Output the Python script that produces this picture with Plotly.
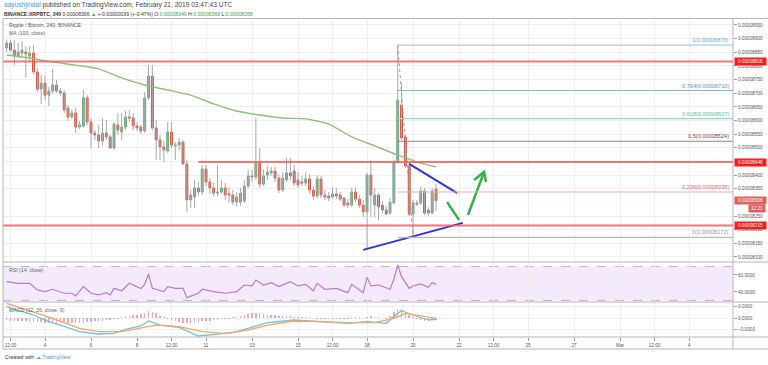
import plotly.graph_objects as go
import pandas as pd

W, H = 768, 365
FONT = "Liberation Sans, Arial, sans-serif"

# ---------------- data (prices in satoshi = 1e-8 BTC) ----------------
opens = [8866, 8884, 8858, 8836, 8847, 8851, 8836, 8847, 8778, 8715,
         8737, 8693, 8708, 8730, 8708, 8701, 8646, 8613, 8628, 8576,
         8580, 8683, 8595, 8554, 8547, 8525, 8554, 8540, 8499, 8584,
         8558, 8576, 8613, 8609, 8580, 8576, 8562, 8683, 8763, 8573,
         8529, 8503, 8488, 8558, 8507, 8510, 8521, 8441, 8309, 8320,
         8353, 8338, 8422, 8375, 8353, 8334, 8338, 8353, 8331, 8327,
         8301, 8301, 8305, 8360, 8397, 8393, 8444, 8367, 8400, 8408,
         8415, 8389, 8345, 8382, 8408, 8415, 8382, 8375, 8371, 8386,
         8345, 8323, 8386, 8327, 8323, 8320, 8331, 8327, 8316, 8298,
         8290, 8338, 8312, 8290, 8265, 8400, 8290, 8327, 8290, 8272,
         8261, 8298, 8448, 8657, 8540, 8433, 8257, 8298, 8298, 8342,
         8272, 8261, 8349]
closes = [8884, 8858, 8836, 8851, 8858, 8844, 8847, 8778, 8715, 8737,
          8693, 8708, 8730, 8708, 8701, 8639, 8613, 8628, 8576, 8584,
          8683, 8595, 8554, 8547, 8525, 8554, 8540, 8499, 8587, 8565,
          8576, 8613, 8609, 8580, 8573, 8562, 8683, 8763, 8573, 8529,
          8503, 8492, 8558, 8510, 8510, 8521, 8441, 8309, 8327, 8353,
          8338, 8422, 8375, 8353, 8334, 8338, 8353, 8327, 8327, 8301,
          8320, 8334, 8360, 8397, 8393, 8444, 8367, 8397, 8411, 8415,
          8389, 8345, 8389, 8408, 8397, 8371, 8364, 8371, 8386, 8345,
          8323, 8386, 8327, 8320, 8316, 8331, 8323, 8312, 8290, 8290,
          8338, 8312, 8290, 8265, 8400, 8327, 8327, 8283, 8272, 8257,
          8301, 8448, 8675, 8536, 8433, 8257, 8298, 8294, 8342, 8261,
          8261, 8342, 8306]
highs = [8895, 8895, 8895, 8884, 8891, 8873, 8873, 8877, 8792, 8767,
         8763, 8723, 8789, 8748, 8719, 8712, 8657, 8639, 8646, 8598,
         8712, 8693, 8609, 8565, 8584, 8609, 8602, 8547, 8595, 8628,
         8628, 8635, 8639, 8628, 8595, 8584, 8704, 8803, 8803, 8602,
         8547, 8525, 8595, 8595, 8521, 8536, 8529, 8455, 8345, 8382,
         8375, 8437, 8437, 8389, 8371, 8437, 8382, 8371, 8356, 8345,
         8338, 8353, 8382, 8419, 8419, 8609, 8499, 8419, 8433, 8430,
         8430, 8400, 8411, 8463, 8463, 8437, 8411, 8397, 8411, 8404,
         8360, 8400, 8397, 8345, 8338, 8356, 8353, 8338, 8320, 8312,
         8353, 8356, 8327, 8309, 8408, 8455, 8353, 8334, 8305, 8287,
         8316, 8455, 8876, 8737, 8547, 8444, 8309, 8309, 8356, 8353,
         8283, 8353, 8369]
lows = [8851, 8851, 8803, 8829, 8833, 8756, 8814, 8770, 8704, 8661,
        8675, 8653, 8697, 8701, 8690, 8628, 8598, 8606, 8554, 8569,
        8573, 8584, 8499, 8529, 8499, 8510, 8529, 8496, 8492, 8547,
        8529, 8565, 8595, 8565, 8562, 8551, 8554, 8675, 8565, 8455,
        8455, 8448, 8481, 8499, 8455, 8492, 8437, 8265, 8279, 8279,
        8323, 8327, 8360, 8331, 8323, 8323, 8331, 8309, 8298, 8290,
        8283, 8287, 8298, 8353, 8375, 8382, 8353, 8360, 8382, 8397,
        8375, 8334, 8338, 8375, 8382, 8360, 8353, 8360, 8360, 8331,
        8309, 8316, 8316, 8309, 8305, 8312, 8312, 8305, 8283, 8279,
        8283, 8301, 8279, 8246, 8133, 8246, 8246, 8235, 8261, 8254,
        8254, 8294, 8444, 8529, 8426, 8250, 8172, 8287, 8290, 8254,
        8250, 8257, 8268]

N = len(opens)
dates = pd.date_range(end="2019-02-21 00:00", periods=N, freq="4h")

# MA(100) sampled at candle indices
ma_idx = [0, 6, 12, 18, 24, 30, 36, 42, 48, 54, 60, 66, 72, 78, 84, 90, 96, 102, 108, 112]
ma_vals = [8840, 8829, 8814, 8803, 8789, 8756, 8730, 8712, 8693, 8661,
           8635, 8620, 8609, 8606, 8587, 8540, 8507, 8474, 8444, 8430]

# RSI(14) sampled at candle indices
rsi_idx = [0, 3, 6, 8, 10, 12, 15, 17, 18, 20, 22, 24, 26, 27, 28, 30, 32, 34, 35, 36,
           37, 38, 41, 42, 44, 46, 47, 50, 51, 54, 57, 60, 62, 64, 65, 67, 69, 71, 74, 76,
           78, 80, 81, 83, 86, 89, 90, 93, 94, 95, 97, 100, 101, 102, 103, 105, 106, 108,
           110, 111, 112]
rsi_vals = [52.1, 50.2, 50.2, 42.4, 40.4, 43.2, 38.5, 38.5, 35.3, 46.3, 38.5, 36.5, 39.2,
            36.5, 44.3, 41.5, 50.2, 46.3, 44.0, 49.0, 61.2, 44.3, 40.4, 46.3, 44.3, 44.3,
            33.3, 38.5, 43.2, 40.4, 38.5, 40.4, 48.2, 47.1, 54.1, 48.2, 51.0, 46.3, 52.1,
            47.1, 49.0, 41.5, 50.2, 43.2, 44.3, 39.2, 49.0, 39.2, 57.3, 47.1, 48.2, 43.2,
            55.0, 71.8, 58.0, 44.3, 47.1, 49.4, 45.5, 51.0, 49.0]

# MACD(12, 26, 9) in satoshi, sampled at candle indices
macd_idx = [0, 4, 7, 11, 14, 19, 24, 28, 31, 35, 37, 40, 45, 50, 54, 59, 63, 68, 75, 82,
            89, 94, 99, 102, 103, 106, 109, 110, 112]
macd_vals = [19.7, 11, 5.2, -6.4, -12.2, -23.8, -27.8, -26.7, -19.7, -13.9, -5.2, -12.2,
             -16.2, -31.3, -28.4, -25.5, -18, -8.1, -3.5, -6.4, -9.3, -6.4, -9.3, 8.1, 12.8,
             5.2, -0.6, -3.5, -2.3]
signal_idx = [0, 7, 12, 19, 24, 30, 35, 39, 45, 51, 57, 63, 68, 75, 82, 89, 96, 101, 104,
              108, 112]
signal_vals = [25.5, 11, -0.6, -18, -23.8, -23.8, -18, -12.2, -15, -23.8, -26.7, -20.9,
               -12.2, -5.2, -6.4, -8.1, -8.1, -0.6, 8.1, 3.5, -0.6]
hist_vals = [-4, -5, -5, -6, -6, -6, -7, -7, -7, -7,
             -8, -8, -8, -9, -9, -9, -9, -9, -8, -8,
             -8, -7, -7, -6, -6, -5, -4, -3, -2, -1,
             2, 3, 4, 5, 6, 7, 8, 12, 10, 8,
             4, 1, -2, -4, -6, -7, -8, -9, -9, -8,
             -7, -6, -6, -5, -4, -3, -2, -2, -1, 1,
             2, 4, 6, 7, 8, 9, 8, 7, 6, 5,
             5, 4, 4, 3, 3, 2, 2, 1, 1, 1,
             0, -1, -1, -2, -2, -2, -1, -1, -2, -1,
             1, 2, 1, 0, 2, 3, 2, 1, 0, -1,
             4, 10, 16, 15, 10, 5, 2, -2, -4, -5, -5, -4, -3]

# horizontal support / resistance levels
red_levels = [8816, 8448, 8215]
red_level_starts = ["2019-02-02 04:10", "2019-02-10 16:00", "2019-02-02 04:10"]

# fibonacci retracement
fib_names = ["1", "0.764", "0.618", "0.5", "0.236", "0"]
fib_prices = [8876, 8710, 8607, 8524, 8338, 8172]
fib_colors = ["#a9cbe6", "#7fb5e6", "#93dcc0", "#9c8080", "#f2a9a9", "#b9b9b9"]
fib_text_colors = ["#6fa8dc", "#4f95d6", "#4fc69a", "#7a4a4a", "#e06666", "#999999"]
fib_start = "2019-02-19 08:00"
fib_anchor_t = ["2019-02-19 08:00", "2019-02-20 00:00"]
fib_anchor_p = [8876, 8172]

# drawn triangle + arrows
tri_upper_t = ["2019-02-19 20:00", "2019-02-21 22:00"]
tri_upper_p = [8441, 8334]
tri_lower_t = ["2019-02-17 20:00", "2019-02-22 04:00"]
tri_lower_p = [8126, 8225]
dip_t = ["2019-02-21 11:30", "2019-02-22 00:00"]
dip_p = [8301, 8236]
arrow_t = ["2019-02-22 09:20", "2019-02-23 02:00", None, "2019-02-22 15:40", "2019-02-23 02:00", "2019-02-23 04:10"]
arrow_p = [8254, 8411, None, 8382, 8411, 8375]

price_ticks = [8100, 8150, 8200, 8250, 8350, 8400, 8450, 8500, 8550, 8600, 8650, 8700,
               8750, 8800, 8850, 8900, 8950]
time_ticks = ["2019-02-02 12:00", "2019-02-04", "2019-02-06", "2019-02-08", "2019-02-09 12:00",
              "2019-02-11", "2019-02-13", "2019-02-15", "2019-02-16 12:00", "2019-02-18",
              "2019-02-20", "2019-02-22", "2019-02-23 12:00", "2019-02-25", "2019-02-27",
              "2019-03-01", "2019-03-02 12:00", "2019-03-04"]
time_labels = ["12:00", "4", "6", "8", "12:00", "11", "13", "15", "12:00", "18", "20", "22",
               "12:00", "25", "27", "Mar", "12:00", "4"]

X_RANGE = ["2019-02-02 04:10", "2019-03-05 21:50"]

# ---------------- layout geometry (pixels) ----------------
def py(p):
    return 1 - p / H

def px(p):
    return p / W

XL, XR = 3, 733
MAIN = (20, 262)
RSI = (262, 302)
MACD = (302, 337)
XDOM = [px(XL), px(XR)]

fig = go.Figure()

# wicks
wx, wy = [], []
for d, lo, hi in zip(dates, lows, highs):
    wx += [d, d, None]
    wy += [lo, hi, None]
fig.add_trace(go.Scatter(x=wx, y=wy, mode="lines", line=dict(color="#a9a9a9", width=1),
                         hoverinfo="skip", showlegend=False, xaxis="x", yaxis="y"))
# bodies
body_hi = [max(o, c) for o, c in zip(opens, closes)]
body_lo = [min(o, c) for o, c in zip(opens, closes)]
fig.add_trace(go.Candlestick(x=dates, open=opens, high=body_hi, low=body_lo, close=closes,
                             increasing=dict(line=dict(color="#6ba583", width=1), fillcolor="#6ba583"),
                             decreasing=dict(line=dict(color="#d75442", width=1), fillcolor="#d75442"),
                             whiskerwidth=0, showlegend=False, hoverinfo="skip",
                             xaxis="x", yaxis="y"))
# MA 100
fig.add_trace(go.Scatter(x=[dates[i] for i in ma_idx], y=ma_vals, mode="lines",
                         line=dict(color="#8cc178", width=1.4, shape="spline", smoothing=0.6),
                         hoverinfo="skip", showlegend=False, xaxis="x", yaxis="y"))
# fib anchor dotted line
fig.add_trace(go.Scatter(x=pd.to_datetime(fib_anchor_t), y=fib_anchor_p, mode="lines",
                         line=dict(color="#9a9a9a", width=1, dash="dot"),
                         hoverinfo="skip", showlegend=False, xaxis="x", yaxis="y"))
# triangle lines
for tt, pp in [(tri_upper_t, tri_upper_p), (tri_lower_t, tri_lower_p)]:
    fig.add_trace(go.Scatter(x=pd.to_datetime(tt), y=pp, mode="lines",
                             line=dict(color="#2a33e6", width=2),
                             hoverinfo="skip", showlegend=False, xaxis="x", yaxis="y"))
# green projection
fig.add_trace(go.Scatter(x=pd.to_datetime(dip_t), y=dip_p, mode="lines",
                         line=dict(color="#2fb34a", width=2.5),
                         hoverinfo="skip", showlegend=False, xaxis="x", yaxis="y"))
fig.add_trace(go.Scatter(x=[pd.Timestamp(t) if t else None for t in arrow_t], y=arrow_p, mode="lines",
                         line=dict(color="#2fb34a", width=2.5),
                         hoverinfo="skip", showlegend=False, xaxis="x", yaxis="y"))

# RSI
fig.add_trace(go.Scatter(x=[dates[i] for i in rsi_idx], y=rsi_vals, mode="lines",
                         line=dict(color="#b57bd6", width=1.2),
                         hoverinfo="skip", showlegend=False, xaxis="x2", yaxis="y2"))
# MACD
fig.add_trace(go.Bar(x=dates, y=hist_vals, marker=dict(color="rgba(240,90,130,0.55)", line=dict(width=0)),
                     width=1.6 * 3600 * 1000, hoverinfo="skip", showlegend=False,
                     xaxis="x3", yaxis="y3"))
fig.add_trace(go.Scatter(x=[dates[i] for i in macd_idx], y=macd_vals, mode="lines",
                         line=dict(color="#6cc0f3", width=1.3),
                         hoverinfo="skip", showlegend=False, xaxis="x3", yaxis="y3"))
fig.add_trace(go.Scatter(x=[dates[i] for i in signal_idx], y=signal_vals, mode="lines",
                         line=dict(color="#f6a564", width=1.3),
                         hoverinfo="skip", showlegend=False, xaxis="x3", yaxis="y3"))

grid = "#efefef"
axfont = dict(family=FONT, size=4.7, color="#555")
xcommon = dict(type="date", range=X_RANGE, domain=XDOM, showgrid=True, gridcolor=grid,
               gridwidth=1, tickvals=time_ticks, ticktext=time_labels, zeroline=False,
               showline=False, fixedrange=True)

fig.update_layout(
    width=W, height=H, margin=dict(l=0, r=0, t=0, b=0),
    paper_bgcolor="white", plot_bgcolor="white", bargap=0,
    xaxis=dict(**xcommon, anchor="y", showticklabels=False, ticks="", rangeslider=dict(visible=False)),
    xaxis2=dict(**xcommon, anchor="y2", matches="x", showticklabels=False, ticks=""),
    xaxis3=dict(**xcommon, anchor="y3", matches="x", showticklabels=True, ticks="outside",
                ticklen=3, tickcolor="#999", tickfont=axfont),
    yaxis=dict(domain=[py(MAIN[1]), py(MAIN[0])], range=[8081.6, 8968.3], side="right",
               anchor="x", tickvals=price_ticks, ticktext=[f"{v / 1e8:.8f}" for v in price_ticks],
               ticks="outside", ticklen=3, tickcolor="#999", tickfont=axfont,
               showgrid=True, gridcolor=grid, zeroline=False, fixedrange=True),
    yaxis2=dict(domain=[py(RSI[1]), py(RSI[0])], range=[28.2, 75.3], side="right",
                anchor="x2", tickvals=[40, 60], ticktext=["40.0000", "60.0000"],
                ticks="outside", ticklen=3, tickcolor="#999", tickfont=axfont,
                showgrid=False, zeroline=False, fixedrange=True),
    yaxis3=dict(domain=[py(MACD[1]), py(MACD[0])], range=[-33, 27.8], side="right",
                anchor="x3", tickvals=[-20, 0, 20], ticktext=["\u22120.0000", "0.0000", "0.0000"],
                ticks="outside", ticklen=3, tickcolor="#999", tickfont=axfont,
                showgrid=True, gridcolor=grid, zeroline=False, fixedrange=True),
)

shapes = []
# RSI band
shapes.append(dict(type="rect", xref="paper", yref="y2", x0=XDOM[0], x1=XDOM[1], y0=30, y1=70,
                   fillcolor="#f4eafb", line=dict(width=0), layer="below"))
for lv in (30, 70):
    shapes.append(dict(type="line", xref="paper", yref="y2", x0=XDOM[0], x1=XDOM[1], y0=lv, y1=lv,
                       line=dict(color="#c9afdc", width=1, dash="dash"), layer="below"))
# red levels
for lv, st in zip(red_levels, red_level_starts):
    shapes.append(dict(type="line", xref="x", yref="y", x0=st, x1=X_RANGE[1], y0=lv, y1=lv,
                       line=dict(color="rgba(246,92,92,0.85)", width=2)))
# fib levels
for p, c in zip(fib_prices, fib_colors):
    shapes.append(dict(type="line", xref="x", yref="y", x0=fib_start, x1=X_RANGE[1], y0=p, y1=p,
                       line=dict(color=c, width=1.2)))
# frame lines
frame = "#b5b5b5"
for yy in (18.5, MAIN[1], RSI[1], MACD[1], 349):
    shapes.append(dict(type="line", xref="paper", yref="paper", x0=px(XL), x1=1, y0=py(yy), y1=py(yy),
                       line=dict(color=frame, width=1)))
for xx in (XL, XR):
    shapes.append(dict(type="line", xref="paper", yref="paper", x0=px(xx), x1=px(xx), y0=py(349), y1=py(18.5),
                       line=dict(color=frame, width=1)))
fig.update_layout(shapes=shapes)

ann = []
def note(text, x, y, size, color="#555", xanchor="left", yanchor="middle", xref="paper", yref="paper", **kw):
    ann.append(dict(text=text, x=x, y=y, xref=xref, yref=yref, xanchor=xanchor, yanchor=yanchor,
                    showarrow=False, font=dict(family=FONT, size=size, color=color), **kw))

note('<span style="color:#3d9be9">aayushjindal</span> published on TradingView.com, February 21, 2019 03:47:43 UTC',
     px(2), py(5), 6.6, "#444")
note('<b>BINANCE:XRPBTC, 240</b> 0.00008306 <span style="color:#3aa54a">\u25b2</span> +-0.00000039 (+-0.47%) '
     'O:<span style="color:#3aa54a">0.00008349</span> H:<span style="color:#3aa54a">0.00008369</span> '
     'L:<span style="color:#3aa54a">0.00008268</span>',
     px(2), py(13.5), 5.1, "#333")
note("Ripple / Bitcoin, 240, BINANCE", px(7), py(25), 5.2, "#555")
note("MA (100, close)", px(7), py(33), 5.2, "#666")
note("RSI (14, close)", px(7), py(270), 5.2, "#666")
note("MACD (12, 26, close, 9)", px(7), py(310), 5.2, "#666")
note('Created with <span style="color:#3d9be9">\u2601 TradingView</span>', px(3), py(357), 5.2, "#333")

for name, p, c in zip(fib_names, fib_prices, fib_text_colors):
    note(f"{name}({p / 1e8:.8f})", px(731), p, 5.6, c, xanchor="right", yanchor="bottom", yref="y")

for lv in red_levels:
    note(f"{lv / 1e8:.8f}", px(734), lv, 4.7, "white", yref="y", bgcolor="#ff1a1a", borderpad=1,
         width=29, align="center")
last_close = closes[-1]
note(f"{last_close / 1e8:.8f}", px(734), last_close, 4.7, "white", yref="y", bgcolor="#de5f5f",
     borderpad=1, width=29, align="center")
note("12:21", px(748), py(208), 4.7, "white", bgcolor="#de5f5f", borderpad=1, width=14, align="center")

fig.update_layout(annotations=ann)
fig.write_html("out.html", include_plotlyjs=True,
               config={"displayModeBar": False, "staticPlot": True},
               post_script="document.body.style.margin='0';document.body.style.overflow='hidden';")
